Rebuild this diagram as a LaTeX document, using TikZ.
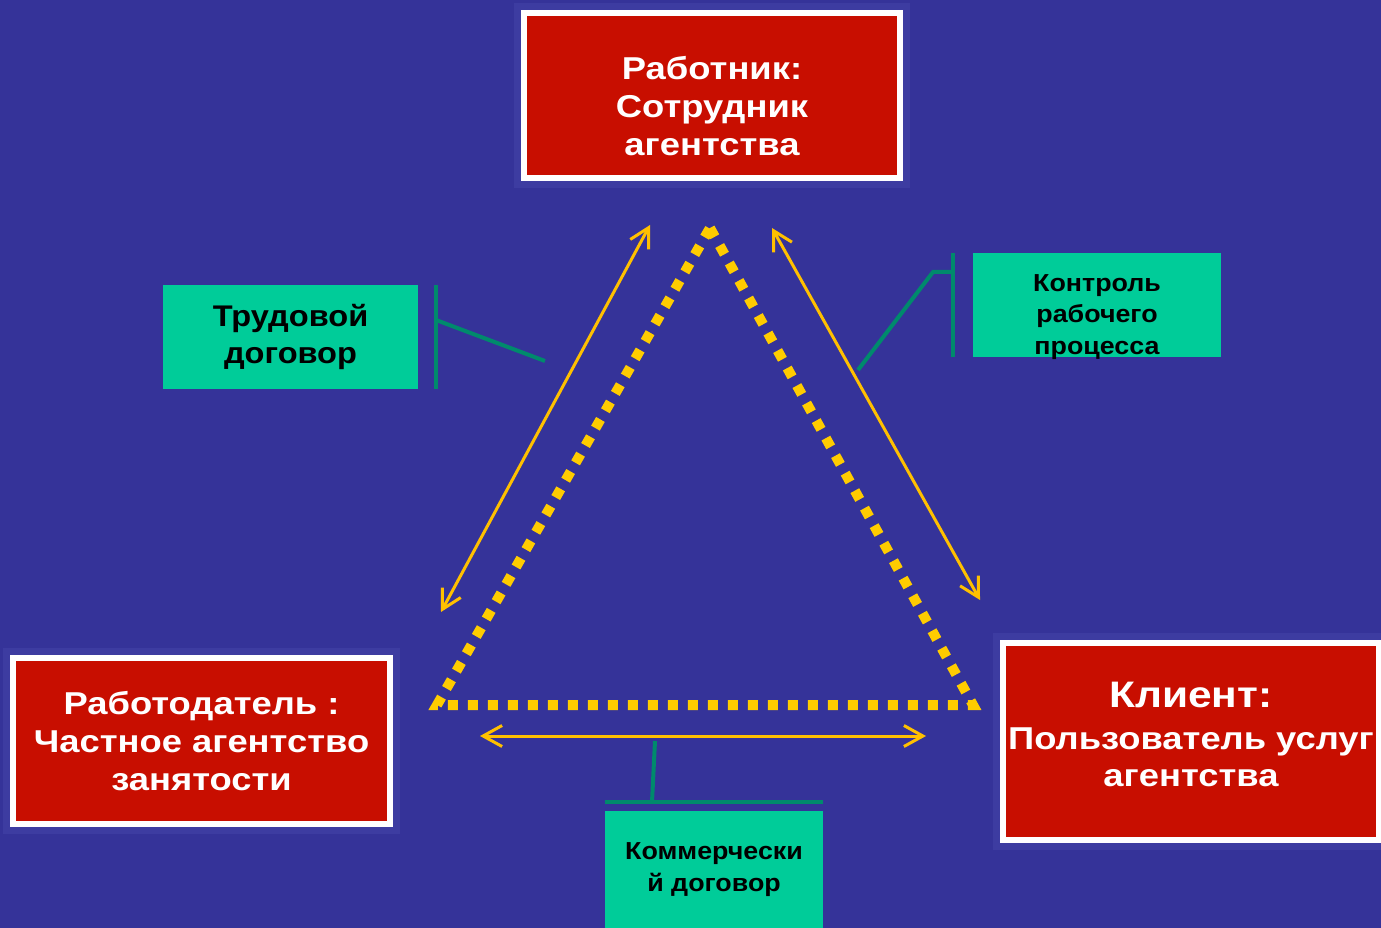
\documentclass[tikz,border=0pt]{standalone}
\usepackage{fontspec}
\setmainfont{Liberation Sans}
\newfontfamily\redFont[FakeStretch=1.15]{Liberation Sans}
\newfontfamily\greenFont[FakeStretch=1.09]{Liberation Sans}
\usetikzlibrary{arrows.meta}
\definecolor{backColor}{HTML}{353399}
\definecolor{haloColor}{HTML}{3D3CA1}
\definecolor{boxRed}{HTML}{C80E00}
\definecolor{boxGreen}{HTML}{00CC99}
\definecolor{tickGreen}{HTML}{008A6C}
\definecolor{arrowYellow}{HTML}{FFC000}
\definecolor{dotYellow}{HTML}{FFCC00}
\tikzstyle{diagram} = [x = 0.02cm, y = -0.02cm]
\tikzstyle{redBox} = [fill=boxRed, draw=white, line width=0.12cm, preaction={draw=haloColor, line width=0.4cm}]
\tikzstyle{redText} = [text=white, align=center, font=\redFont\bfseries\fontsize{18}{21.5}\selectfont]
\tikzstyle{greenBox} = [fill=boxGreen, align=center, inner sep=0pt]
\tikzstyle{greenText} = [align=center, font=\greenFont\bfseries\fontsize{14}{18}\selectfont]
\tikzstyle{tickLine} = [draw=tickGreen, line width=0.08cm]
\tikzstyle{relArrow} = [draw=arrowYellow, line width=0.06cm, {Straight Barb[length=0.38cm, width=0.42cm]}-{Straight Barb[length=0.38cm, width=0.42cm]}]
\tikzstyle{dotLine} = [draw=dotYellow, line width=0.2cm, dash pattern=on 0.2cm off 0.2cm]

\begin{document}
\begin{tikzpicture}[diagram]
\fill[backColor] (0,0) rectangle (1381,928);
\useasboundingbox (0,0) rectangle (1381,928);
% parties
\node[redBox, minimum width=7.52cm, minimum height=3.3cm] (worker) at (712,95.5) {};
\node[redText] (workerText) at (712,106) {Работник:\\Сотрудник\\агентства};
\node[redBox, redText, minimum width=7.54cm, minimum height=3.32cm] (employer) at (201.5,741) {Работодатель :\\Частное агентство\\занятости};
\node[redBox, minimum width=7.52cm, minimum height=3.94cm] (client) at (1191,741.5) {};
\node[redText] (clientText) at (1191,734.5) {{\fontsize{21}{25}\selectfont Клиент:}\\[0.08cm]Пользователь услуг\\агентства};
% contracts
\node[greenBox, greenText, font=\greenFont\bfseries\fontsize{17}{21}\selectfont, minimum width=5.1cm, minimum height=2.08cm] (labour) at (290.5,337) {Трудовой\\договор};
\node[greenBox, minimum width=4.96cm, minimum height=2.08cm] (control) at (1097,305) {};
\node[greenText] (controlText) at (1097,317) {Контроль\\рабочего\\процесса};
\node[greenBox, greenText, minimum width=4.36cm, minimum height=2.34cm] (commerce) at (714,869.5) {Коммерчески\\й договор};
% triangle
\coordinate (apex) at (710,228);
\coordinate (cornerLeft) at (437,705);
\coordinate (cornerRight) at (973,705);
\draw[dotLine] (apex) -- (cornerRight) -- (cornerLeft) -- cycle;
% relations
\coordinate (leftLow) at (441,612);
\coordinate (leftHigh) at (650,225);
\coordinate (rightHigh) at (772,228);
\coordinate (rightLow) at (980,600);
\coordinate (baseLeft) at (480,736);
\coordinate (baseRight) at (926,736);
\draw[relArrow] (leftLow) -- (leftHigh);
\draw[relArrow] (rightHigh) -- (rightLow);
\draw[relArrow] (baseLeft) -- (baseRight);
% labels to arrows
\coordinate (labourTick) at (436,320);
\coordinate (labourEnd) at (545,361);
\draw[tickLine] ([xshift=0.36cm]labour.north east) -- ([xshift=0.36cm]labour.south east);
\draw[tickLine] (labourTick) -- (labourEnd);
\coordinate (controlTick) at (953,272);
\coordinate (controlBend) at (933,272);
\coordinate (controlEnd) at (858,370);
\draw[tickLine] ([xshift=-0.4cm]control.north west) -- ([xshift=-0.4cm]control.south west);
\draw[tickLine] (controlTick) -- (controlBend) -- (controlEnd);
\coordinate (commerceTick) at (652,802);
\coordinate (commerceEnd) at (655,741);
\draw[tickLine] ([yshift=0.18cm]commerce.north west) -- ([yshift=0.18cm]commerce.north east);
\draw[tickLine] (commerceTick) -- (commerceEnd);
\end{tikzpicture}
\end{document}
